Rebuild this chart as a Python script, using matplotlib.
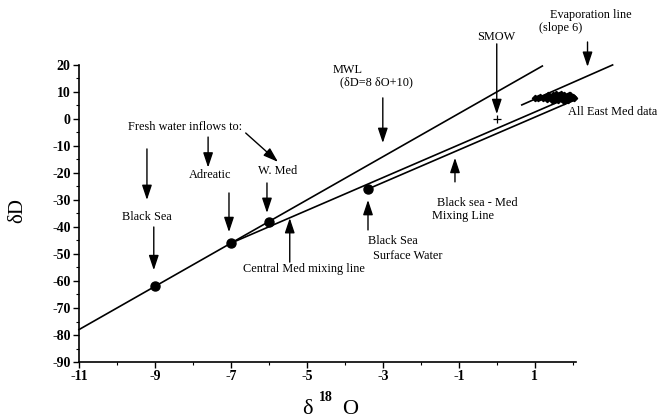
import matplotlib
matplotlib.use("Agg")
import matplotlib.pyplot as plt
from matplotlib.ticker import MultipleLocator

plt.rcParams['font.family'] = ['Liberation Serif', 'DejaVu Serif']
plt.rcParams['axes.unicode_minus'] = False

# ---- data ----
mwl_d18o = [-11.0, 1.2]
mwl_dD = [-78.0, 19.6]
evap_d18o = [0.66, 3.05]
evap_dD = [5.2, 20.0]
cmed_d18o = [-7.0, 1.9]
cmed_dD = [-46.0, 8.0]
bsmed_d18o = [-3.4, 2.05]
bsmed_dD = [-26.0, 7.0]

pt_names = ["Black Sea", "Adreatic", "W. Med", "Black Sea Surface Water"]
pt_d18o = [-9.0, -7.0, -6.0, -3.4]
pt_dD = [-62.0, -46.0, -38.0, -26.0]

smow_d18o = [0.0]
smow_dD = [0.0]

emed_d18o = [1.00, 1.08, 1.15, 1.22, 1.28, 1.33, 1.38, 1.42, 1.47, 1.52, 1.56,
             1.60, 1.64, 1.68, 1.72, 1.76, 1.80, 1.84, 1.88, 1.92, 1.96, 2.00,
             2.04, 1.45, 1.55, 1.62, 1.70, 1.35, 1.78, 1.90]
emed_dD = [7.6, 7.8, 8.0, 7.7, 8.3, 7.4, 8.6, 7.9, 8.8, 7.2, 8.4,
           7.6, 9.0, 8.1, 7.3, 8.7, 7.8, 8.4, 7.1, 8.9, 7.7, 8.2,
           7.9, 6.9, 9.2, 7.0, 9.1, 8.9, 6.8, 9.0]

xticks = [-11, -9, -7, -5, -3, -1, 1]
yticks = list(range(-90, 21, 10))

# ---- figure ----
fig = plt.figure(figsize=(6.58, 4.19), dpi=100)
ax = fig.add_axes([0.120, 0.136, 0.755, 0.709])

lw = 1.2
ax.plot(mwl_d18o, mwl_dD, color='black', lw=lw, clip_on=False)
ax.plot(evap_d18o, evap_dD, color='black', lw=lw, clip_on=False)
ax.plot(cmed_d18o, cmed_dD, color='black', lw=lw, clip_on=False)
ax.plot(bsmed_d18o, bsmed_dD, color='black', lw=lw, clip_on=False)
ax.plot(emed_d18o, emed_dD, 'D', color='black', ms=3.2, clip_on=False)
ax.plot(pt_d18o, pt_dD, 'o', color='black', ms=6.5, clip_on=False, zorder=5)
ax.plot(smow_d18o, smow_dD, '+', color='black', ms=6, mew=0.9)

ax.set_xlim(-11, 2.08)
ax.set_ylim(-90, 20)
ax.set_xticks(xticks)
ax.set_yticks(yticks)
ax.xaxis.set_minor_locator(MultipleLocator(1))
ax.yaxis.set_minor_locator(MultipleLocator(5))
ax.tick_params(which='major', direction='out', length=4, width=1,
               labelsize=10, pad=2)
ax.tick_params(which='minor', direction='out', length=2, width=0.8)
for lab in ax.get_xticklabels() + ax.get_yticklabels():
    lab.set_fontweight('bold')
for s in ['top', 'right']:
    ax.spines[s].set_visible(False)
for s in ['left', 'bottom']:
    ax.spines[s].set_linewidth(1.2)

fs = 8.8
aprops = dict(arrowstyle='-|>,head_length=0.9,head_width=0.3', color='black',
              lw=1.0, shrinkA=0, shrinkB=0)

def arrow(x0, y0, x1, y1):
    ax.annotate('', xy=(x1, y1), xytext=(x0, y0), arrowprops=aprops,
                annotation_clip=False)

def label(x, y, s, ha='left'):
    ax.text(x, y, s, fontsize=fs, ha=ha, va='center', clip_on=False)

# Fresh water inflows
label(-9.71, -3.0, "Fresh water inflows to:")
arrow(-6.61, -5.2, -5.76, -15.9)
# Black Sea
arrow(-9.21, -11.1, -9.21, -30.0)
label(-9.21, -36.3, "Black Sea", ha='center')
arrow(-9.03, -40.0, -9.03, -56.0)
# Adreatic
arrow(-7.6, -6.7, -7.6, -18.0)
label(-7.55, -20.9, "Adreatic", ha='center')
arrow(-7.05, -27.4, -7.05, -41.9)
# W. Med
label(-5.76, -19.3, "W. Med", ha='center')
arrow(-6.05, -23.7, -6.05, -34.8)
# Central Med mixing line
label(-5.08, -55.6, "Central Med mixing line", ha='center')
arrow(-5.45, -53.0, -5.45, -36.7)
# Black Sea surface water
arrow(-3.39, -41.1, -3.39, -30.0)
label(-3.39, -45.2, "Black Sea")
label(-3.26, -50.7, "Surface Water")
# Black sea - Med mixing line
arrow(-1.1, -23.3, -1.1, -14.4)
label(-1.58, -31.1, "Black sea - Med")
label(-1.71, -35.9, "Mixing Line")
# MWL
label(-4.32, 18.2, "MWL")
label(-4.13, 13.7, "(δD=8 δO+10)")
arrow(-3.0, 7.8, -3.0, -8.9)
# SMOW
label(0.0, 30.4, "SMOW", ha='center')
arrow(0.0, 27.8, 0.0, 1.8)
# Evaporation line
label(1.39, 38.5, "Evaporation line")
label(1.1, 33.7, "(slope 6)")
arrow(2.39, 28.5, 2.39, 19.3)
# East Med
label(1.87, 2.6, "All East Med data")

# axis labels
fig.text(18 / 658, 1 - 210 / 419, "δD", fontsize=15, rotation=90,
         ha='center', va='center')
fig.text(307 / 658, 1 - 409 / 419, "δ", fontsize=16, ha='center', va='center')
fig.text(326 / 658, 1 - 397 / 419, "18", fontsize=10, fontweight='bold',
         ha='center', va='center')
fig.text(350 / 658, 1 - 409 / 419, "O", fontsize=16, ha='center', va='center')

fig.savefig("out.png", dpi=100)
